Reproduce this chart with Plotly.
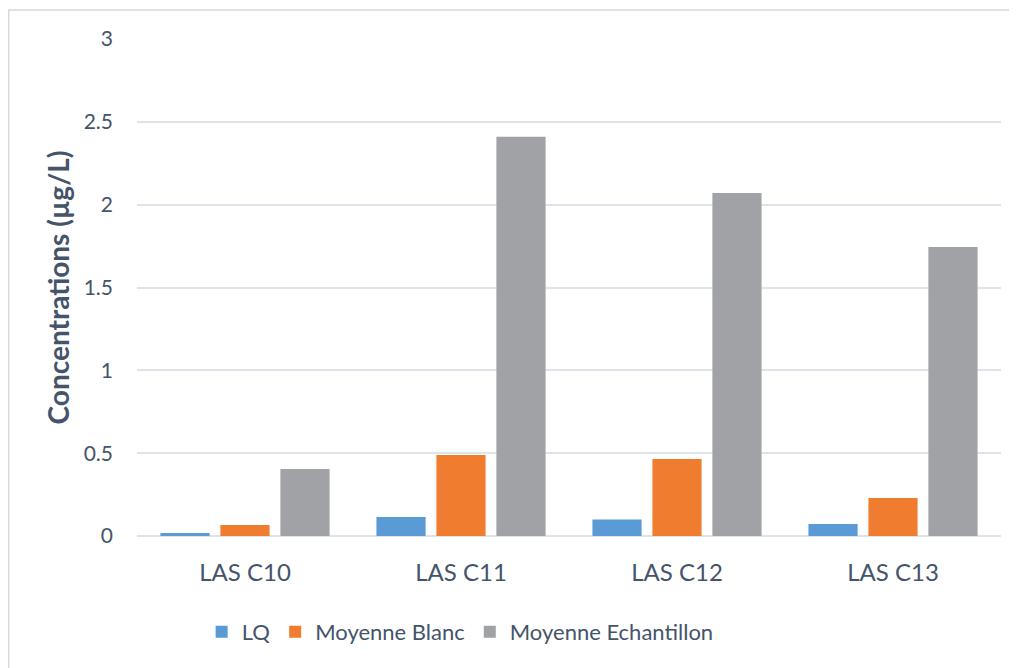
import plotly.graph_objects as go

categories = ["LAS C10", "LAS C11", "LAS C12", "LAS C13"]
lq = [0.018, 0.115, 0.10, 0.072]
moyenne_blanc = [0.066, 0.489, 0.465, 0.23]
moyenne_echantillon = [0.404, 2.41, 2.07, 1.745]

series = [
    ("LQ", lq, "#5b9bd5"),
    ("Moyenne Blanc", moyenne_blanc, "#f07d2f"),
    ("Moyenne Echantillon", moyenne_echantillon, "#a1a2a5"),
]

text_color = "#44546a"
grid_color = "#dfe3ea"

fig = go.Figure()
for name, values, color in series:
    fig.add_trace(go.Bar(
        x=categories,
        y=values,
        name=name,
        marker=dict(color=color, line=dict(width=0)),
    ))

fig.update_layout(
    width=1009,
    height=660,
    barmode="group",
    bargap=0.167,
    bargroupgap=0.18,
    plot_bgcolor="white",
    paper_bgcolor="white",
    font=dict(family="Lato", color=text_color, size=20),
    margin=dict(l=129, r=16, t=31, b=132),
    xaxis=dict(
        showgrid=False,
        showline=False,
        zeroline=False,
        ticks="",
        tickfont=dict(size=24, color=text_color),
        ticklabelstandoff=20,
    ),
    yaxis=dict(
        range=[0, 3],
        tickvals=[0, 0.5, 1, 1.5, 2, 2.5, 3],
        ticktext=["0", "0.5", "1", "1.5", "2", "2.5", "3"],
        showgrid=True,
        gridcolor=grid_color,
        gridwidth=1.5,
        zeroline=True,
        zerolinecolor=grid_color,
        zerolinewidth=1.5,
        showline=False,
        ticks="",
        tickfont=dict(size=21, color=text_color),
        ticklabelstandoff=23,
        title=dict(
            text="<b>Concentrations (µg/L)</b>",
            font=dict(size=28, color=text_color),
            standoff=5,
        ),
    ),
    legend=dict(
        orientation="h",
        x=0.374,
        xanchor="center",
        y=-0.193,
        yanchor="middle",
        font=dict(size=22, color=text_color),
        itemwidth=30,
        traceorder="normal",
    ),
    shapes=[
        dict(
            type="rect",
            xref="paper",
            yref="paper",
            x0=-0.1485,
            x1=1.03,
            y0=-0.3,
            y1=1.0584,
            line=dict(color="#d9d9d9", width=1.5),
            fillcolor="rgba(0,0,0,0)",
            layer="below",
        )
    ],
)

fig.write_html("out.html")
